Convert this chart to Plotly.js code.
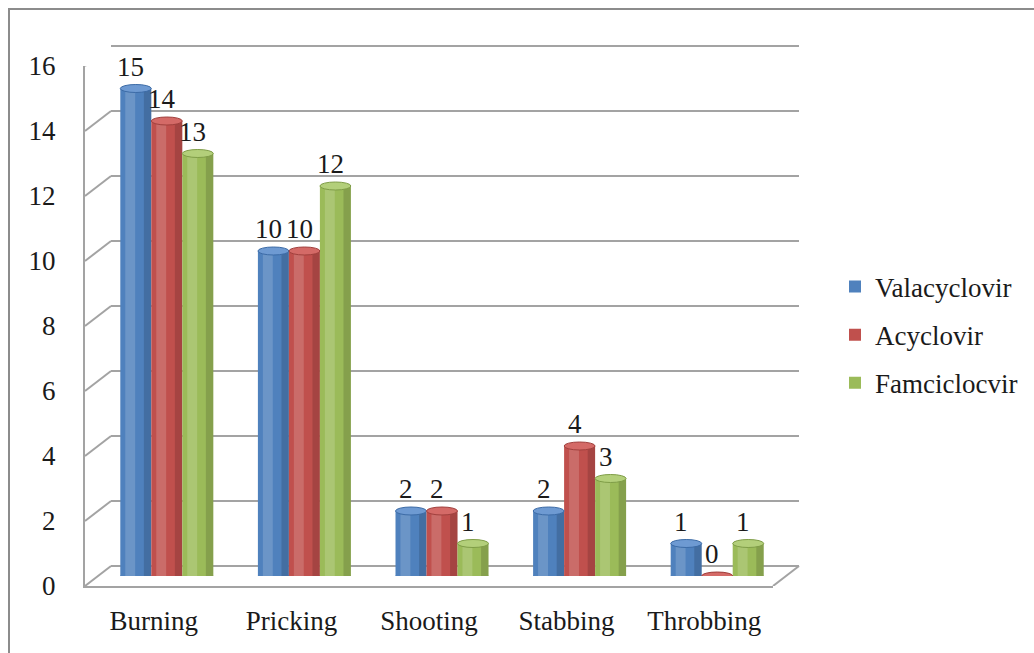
<!DOCTYPE html>
<html>
<head>
<meta charset="utf-8">
<script src="https://cdn.plot.ly/plotly-3.0.1.min.js"></script>
<style>
  html, body { margin: 0; padding: 0; background: #ffffff; }
  #chart { width: 1034px; height: 653px; }
</style>
</head>
<body>
<div id="chart"></div>
<script>
// Pain character reported per antiviral treatment group
const categories = ['Burning', 'Pricking', 'Shooting', 'Stabbing', 'Throbbing'];
const valacyclovir = [15, 10, 2, 2, 1];
const acyclovir = [14, 10, 2, 4, 0];
const famciclovir = [13, 12, 1, 3, 1];
const seriesNames = ['Valacyclovir', 'Acyclovir', 'Famciclocvir'];
const yTicks = [0, 2, 4, 6, 8, 10, 12, 14, 16];

// ---- page geometry (pixels) ----
const W = 1034, H = 653;
const px = v => v / W;
const py = v => (H - v) / H;
// front edge of the floor / left wall, and the depth offset of the 3-D box
const FX0 = 85, FX1 = 773, FY0 = 586, FY16 = 66, DX = 26, DY = 20;
const UNIT = (FY0 - FY16) / 16;            // pixels per count
const PADV = 0.1;                          // small range pad so the edge grid lines are kept
const BAR_PX = 31;                         // cylinder diameter
const BW = BAR_PX / ((FX1 - FX0) / categories.length); // in category units

const FONT = 'Liberation Serif, Times New Roman, serif';
const TEXT = '#1a1a1a';
const GRID = '#a3a3a3';

const series = [valacyclovir, acyclovir, famciclovir];
const bodyColors = ['#4F81BD', '#C0504D', '#9BBB59'];
const capColors = ['#6E9AD2', '#D46A67', '#B3CF7A'];
const capLines = ['#3C6BA6', '#A0403D', '#7F9D47'];

const traces = [];

// back wall subplot (carries the grid)
traces.push({
  type: 'scatter', mode: 'markers', x: categories, y: valacyclovir,
  xaxis: 'x', yaxis: 'y', marker: { opacity: 0 }, showlegend: false, hoverinfo: 'skip'
});

// cylinders: body, left highlight and right shade
series.forEach((vals, s) => {
  const left = -1.5 * BW + s * BW;
  traces.push({
    type: 'bar', name: seriesNames[s], legendgroup: seriesNames[s],
    x: categories, y: vals, xaxis: 'x2', yaxis: 'y2',
    width: BW, offset: left,
    marker: { color: bodyColors[s], line: { width: 0 } },
    hoverinfo: 'skip'
  });
  traces.push({
    type: 'bar', x: categories, y: vals, xaxis: 'x2', yaxis: 'y2',
    width: BW * 0.32, offset: left + BW * 0.16,
    marker: { color: 'rgba(255,255,255,0.16)', line: { width: 0 } },
    showlegend: false, hoverinfo: 'skip'
  });
  traces.push({
    type: 'bar', x: categories, y: vals, xaxis: 'x2', yaxis: 'y2',
    width: BW * 0.24, offset: left + BW * 0.76,
    marker: { color: 'rgba(0,0,0,0.14)', line: { width: 0 } },
    showlegend: false, hoverinfo: 'skip'
  });
});

// front frame subplot (axis labels)
traces.push({
  type: 'scatter', mode: 'markers', x: categories, y: valacyclovir,
  xaxis: 'x3', yaxis: 'y3', marker: { opacity: 0 }, showlegend: false, hoverinfo: 'skip'
});

const shapes = [];
const annotations = [];

// left wall: diagonals joining the front tick positions with the back grid
yTicks.forEach(t => {
  shapes.push({
    type: 'line', layer: 'above',
    xref: 'paper', xsizemode: 'pixel', xanchor: px(FX0), x0: 0, x1: DX,
    yref: 'y3', ysizemode: 'pixel', yanchor: t, y0: 0, y1: DY,
    line: { color: GRID, width: 2 }
  });
});
// right edge of the floor
shapes.push({
  type: 'line', layer: 'above',
  xref: 'paper', xsizemode: 'pixel', xanchor: px(FX1), x0: 0, x1: DX,
  yref: 'y3', ysizemode: 'pixel', yanchor: 0, y0: 0, y1: DY,
  line: { color: GRID, width: 2 }
});

// cylinder bases, tops and value labels
series.forEach((vals, s) => {
  vals.forEach((v, i) => {
    const cx = i + (s - 1) * BW;
    shapes.push({
      type: 'circle', layer: 'below',
      xref: 'x2', xsizemode: 'pixel', xanchor: cx, x0: -BAR_PX / 2, x1: BAR_PX / 2,
      yref: 'y2', ysizemode: 'pixel', yanchor: 0, y0: -4, y1: 4,
      fillcolor: bodyColors[s], line: { width: 0 }
    });
    shapes.push({
      type: 'circle', layer: 'above',
      xref: 'x2', xsizemode: 'pixel', xanchor: cx, x0: -BAR_PX / 2, x1: BAR_PX / 2,
      yref: 'y2', ysizemode: 'pixel', yanchor: v, y0: -4, y1: 4,
      fillcolor: capColors[s], line: { color: capLines[s], width: 1 }
    });
    annotations.push({
      xref: 'x2', yref: 'y2', x: cx, y: v, text: String(v),
      showarrow: false, xshift: -5, yshift: 22, yanchor: 'middle',
      font: { family: FONT, size: 27, color: TEXT }
    });
  });
});

// outer frame of the chart area
shapes.push({
  type: 'rect', xref: 'paper', yref: 'paper', layer: 'above',
  x0: px(9), x1: 1.2, y0: -0.2, y1: py(9),
  line: { color: '#8c8c8c', width: 2 }, fillcolor: 'rgba(0,0,0,0)'
});

const catRange = [-0.5, categories.length - 0.5];

const layout = {
  width: W, height: H,
  margin: { l: 0, r: 0, t: 0, b: 0, pad: 0 },
  paper_bgcolor: '#ffffff',
  plot_bgcolor: 'rgba(0,0,0,0)',
  barmode: 'overlay',
  font: { family: FONT, size: 27, color: TEXT },
  showlegend: true,
  legend: {
    x: px(835), xanchor: 'left', y: py(335), yanchor: 'middle',
    bgcolor: 'rgba(0,0,0,0)', borderwidth: 0,
    font: { family: FONT, size: 27, color: TEXT },
    tracegroupgap: 10
  },
  // back wall grid (range padded a little so the 0 and 16 lines are drawn)
  xaxis: {
    domain: [px(FX0 + DX), px(FX1 + DX)], anchor: 'y',
    type: 'category', categoryarray: categories, range: catRange,
    showgrid: false, zeroline: false, showline: false, showticklabels: false, ticks: ''
  },
  yaxis: {
    domain: [py(FY0 - DY + PADV * UNIT), py(FY16 - DY - PADV * UNIT)], anchor: 'x',
    range: [-PADV, 16 + PADV], tickvals: yTicks,
    showgrid: true, gridcolor: GRID, gridwidth: 2,
    zeroline: false, showline: false, showticklabels: false, ticks: ''
  },
  // cylinders, half way into the box
  xaxis2: {
    domain: [px(FX0 + DX / 2), px(FX1 + DX / 2)], anchor: 'y2',
    type: 'category', categoryarray: categories, range: catRange, visible: false
  },
  yaxis2: {
    domain: [py(FY0 - DY / 2), py(FY16 - DY / 2)], anchor: 'x2',
    range: [0, 16], visible: false
  },
  // front frame with the labels
  xaxis3: {
    domain: [px(FX0), px(FX1)], anchor: 'y3',
    type: 'category', categoryarray: categories, range: catRange,
    showgrid: false, zeroline: false, showline: true, linecolor: GRID, linewidth: 2,
    ticks: '', ticklabelstandoff: 10,
    tickfont: { family: FONT, size: 27, color: TEXT }
  },
  yaxis3: {
    domain: [py(FY0), py(FY16)], anchor: 'x3',
    range: [0, 16], tickvals: yTicks,
    showgrid: false, zeroline: false, showline: true, linecolor: GRID, linewidth: 2,
    ticks: '', ticklabelstandoff: 22,
    tickfont: { family: FONT, size: 27, color: TEXT }
  },
  shapes: shapes,
  annotations: annotations
};

Plotly.newPlot('chart', traces, layout, { displayModeBar: false, staticPlot: true });
</script>
</body>
</html>
